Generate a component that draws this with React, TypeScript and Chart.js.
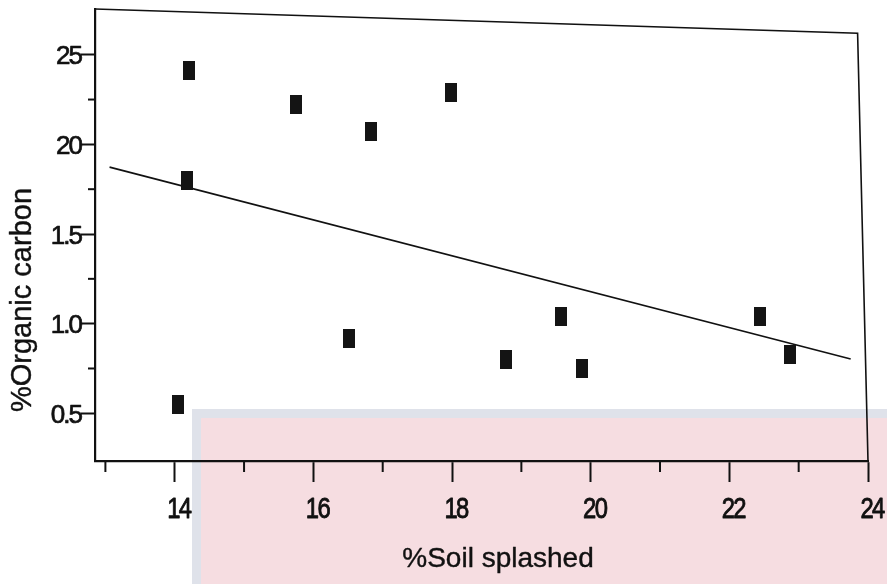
import React, { useEffect, useRef } from "react";
import { Chart, registerables } from "chart.js";

Chart.register(...registerables);

// ---- data ----
const soilSplashed = [14.2, 15.75, 16.83, 17.98, 14.18, 22.44, 22.87, 14.05, 16.51, 18.78, 19.57, 19.87];
const organicCarbon = [2.41, 2.22, 2.07, 2.29, 1.8, 1.04, 0.83, 0.55, 0.92, 0.8, 1.04, 0.75];

const fitX = [13.06, 23.75];
const fitY = [1.873, 0.803];

const xMajorTicks = [14, 16, 18, 20, 22, 24];
const xTickLabels = ["14", "16", "18", "20", "22", "24"];
const xMinorTicks = [13, 15, 17, 19, 21, 23];

const yMajorTicks = [0.5, 1.0, 1.5, 2.0, 2.5];
const yTickLabels = ["0.5", "1.0", "1.5", "20", "25"];
const yMinorTicks = [0.75, 1.25, 1.75, 2.25];

const xRange = [12.85, 24];
const yRange = [0.234, 2.755];

// frame (top and right border of the original figure, slightly skewed)
const frameX = [12.85, 23.85, 24];
const frameY = [2.755, 2.62, 0.234];

const xTitle = "%Soil splashed";
const yTitle = "%Organic carbon";

const INK = "#111111";
const SANS = "'Liberation Sans', Arial, sans-serif";

export default function App() {
  const ref = useRef<HTMLCanvasElement | null>(null);

  useEffect(() => {
    document.body.style.margin = "0";
    document.body.style.background = "#ffffff";
    const canvas = ref.current;
    if (!canvas) return;

    const marker = document.createElement("canvas");
    marker.width = 12;
    marker.height = 19;
    const mctx = marker.getContext("2d")!;
    mctx.fillStyle = "#141414";
    mctx.fillRect(0, 0, 12, 19);

    const decor = {
      id: "decor",
      beforeDraw(chart: any) {
        const { ctx, width, height } = chart;
        ctx.save();
        // faint scanned watermark block
        ctx.fillStyle = "#dfe2ea";
        ctx.fillRect(192, 409, width - 192, height - 409);
        ctx.fillStyle = "#f6dde1";
        ctx.fillRect(201, 418, width - 201, height - 418);
        ctx.restore();
      },
      afterDraw(chart: any) {
        const { ctx, chartArea } = chart;
        const xs = chart.scales.x;
        const ys = chart.scales.y;
        ctx.save();
        ctx.strokeStyle = INK;
        ctx.lineWidth = 2;
        ctx.lineCap = "butt";
        // minor ticks
        for (const v of yMinorTicks) {
          const py = ys.getPixelForValue(v);
          ctx.beginPath();
          ctx.moveTo(chartArea.left - 7, py);
          ctx.lineTo(chartArea.left, py);
          ctx.stroke();
        }
        for (const v of xMinorTicks) {
          const px = xs.getPixelForValue(v);
          ctx.beginPath();
          ctx.moveTo(px, chartArea.bottom);
          ctx.lineTo(px, chartArea.bottom + 11);
          ctx.stroke();
        }
        // frame
        ctx.lineWidth = 1.6;
        ctx.beginPath();
        frameX.forEach((fx, i) => {
          const px = xs.getPixelForValue(fx);
          const py = ys.getPixelForValue(frameY[i]);
          if (i === 0) ctx.moveTo(px, py);
          else ctx.lineTo(px, py);
        });
        ctx.stroke();

        // tick labels (condensed, as in the scanned figure)
        ctx.fillStyle = INK;
        ctx.strokeStyle = INK;
        ctx.lineWidth = 0.7;
        ctx.lineJoin = "round";
        ctx.textBaseline = "alphabetic";
        ctx.font = `26px ${SANS}`;
        ctx.textAlign = "right";
        (ctx as any).letterSpacing = "-2px";
        yMajorTicks.forEach((v, i) => {
          const py = ys.getPixelForValue(v);
          ctx.fillText(yTickLabels[i], chartArea.left - 14, py + 9.5);
          ctx.strokeText(yTickLabels[i], chartArea.left - 14, py + 9.5);
        });
        ctx.textAlign = "center";
        (ctx as any).letterSpacing = "-2px";
        ctx.font = `29px ${SANS}`;
        xMajorTicks.forEach((v, i) => {
          const px = xs.getPixelForValue(v);
          ctx.save();
          ctx.translate(px + 4, chartArea.bottom + 57);
          ctx.scale(0.82, 1);
          ctx.fillText(xTickLabels[i], 0, 0);
          ctx.lineWidth = 0.9;
          ctx.strokeText(xTickLabels[i], 0, 0);
          ctx.restore();
        });

        // axis titles
        (ctx as any).letterSpacing = "0px";
        ctx.lineWidth = 0.4;
        ctx.textAlign = "center";
        ctx.textBaseline = "middle";
        ctx.font = `28px ${SANS}`;
        ctx.fillText(xTitle, 498, 559);
        ctx.strokeText(xTitle, 498, 559);
        ctx.font = `29px ${SANS}`;
        ctx.translate(23, 300);
        ctx.rotate(-Math.PI / 2);
        ctx.fillText(yTitle, 0, 0);
        ctx.strokeText(yTitle, 0, 0);
        ctx.restore();
      },
    };

    const chart = new Chart(canvas, {
      type: "scatter",
      data: {
        datasets: [
          {
            label: "points",
            data: soilSplashed.map((x, i) => ({ x, y: organicCarbon[i] })),
            pointStyle: marker as any,
            pointRadius: 8,
            backgroundColor: INK,
            borderColor: INK,
            order: 1,
          },
          {
            label: "fit",
            type: "line" as any,
            data: fitX.map((x, i) => ({ x, y: fitY[i] })),
            showLine: true,
            borderColor: INK,
            borderWidth: 1.6,
            pointRadius: 0,
            fill: false,
            order: 2,
          } as any,
        ],
      },
      options: {
        responsive: false,
        animation: false,
        layout: { padding: { top: 6, right: 19, left: 0, bottom: 0 } },
        plugins: {
          legend: { display: false },
          tooltip: { enabled: false },
          title: { display: false },
        },
        scales: {
          x: {
            type: "linear",
            min: xRange[0],
            max: xRange[1],
            afterBuildTicks: (s: any) => {
              s.ticks = xMajorTicks.map((v) => ({ value: v }));
            },
            afterFit: (s: any) => {
              s.height = 123;
              s.paddingLeft = 0;
              s.paddingRight = 0;
            },
            grid: {
              drawOnChartArea: false,
              drawTicks: true,
              tickLength: 21,
              tickWidth: 2,
              tickColor: INK,
            },
            border: { display: true, color: INK, width: 2.2 },
            ticks: { display: false },
          },
          y: {
            type: "linear",
            min: yRange[0],
            max: yRange[1],
            afterBuildTicks: (s: any) => {
              s.ticks = yMajorTicks.map((v) => ({ value: v }));
            },
            afterFit: (s: any) => {
              s.width = 95;
              s.paddingTop = 0;
              s.paddingBottom = 0;
            },
            grid: {
              drawOnChartArea: false,
              drawTicks: true,
              tickLength: 14,
              tickWidth: 2,
              tickColor: INK,
            },
            border: { display: true, color: INK, width: 2.2 },
            ticks: { display: false },
          },
        },
      },
      plugins: [decor],
    });

    return () => chart.destroy();
  }, []);

  return (
    <div style={{ width: 887, height: 584, background: "#ffffff" }}>
      <canvas ref={ref} width={887} height={584} style={{ display: "block" }} />
    </div>
  );
}
